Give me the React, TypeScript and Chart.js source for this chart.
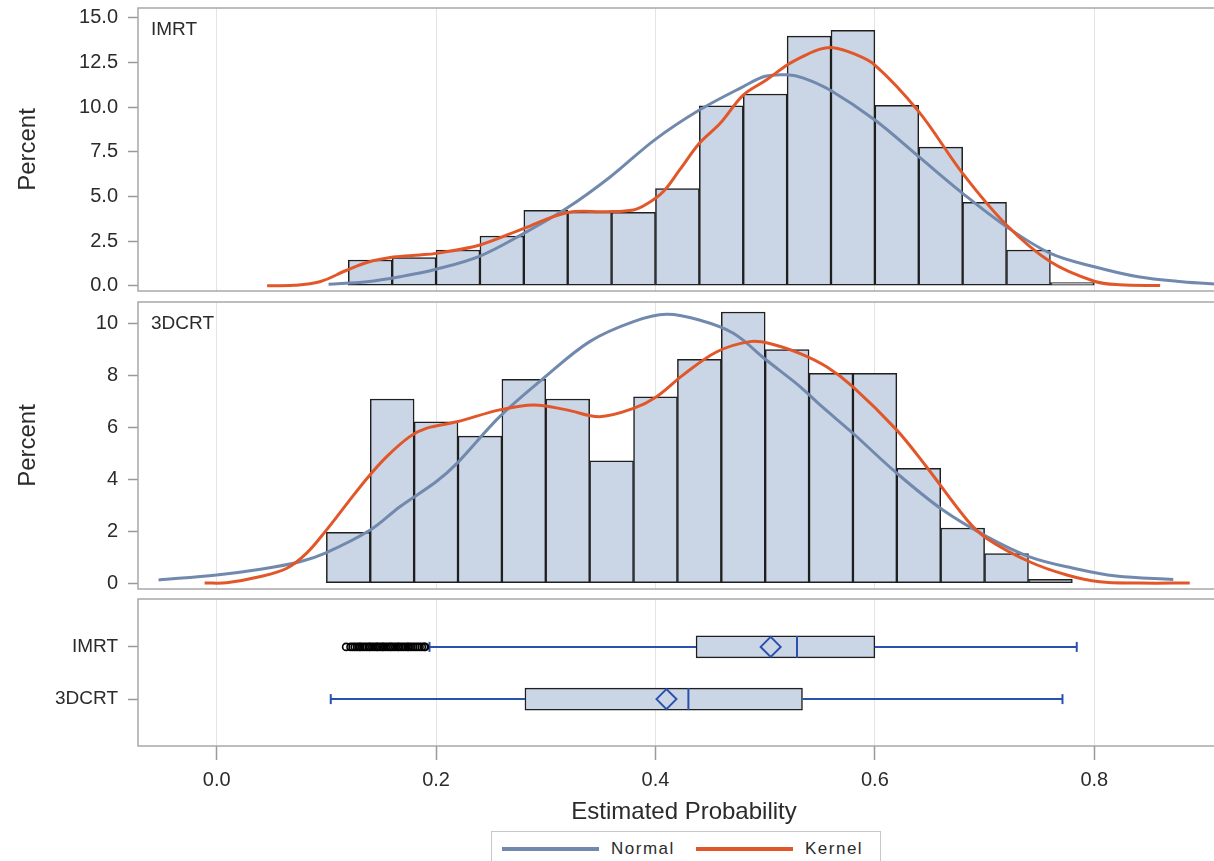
import React, { useEffect, useRef } from 'react';
import { Chart, registerables } from 'chart.js';

Chart.register(...registerables);

const FONT = "'Liberation Sans', Arial, Helvetica, sans-serif";
const TEXT = '#2b2b2b';
const GRID = '#e4e4e4';
const FRAME = '#a8a8a8';
const TICK = '#9a9a9a';
const BAR_FILL = '#cad5e5';
const BAR_EDGE = '#1f1f1f';
const NORMAL_COLOR = '#7189ad';
const KERNEL_COLOR = '#e2572a';
const BOX_BLUE = '#2a50ae';

// shared x axis
const X_MIN = -0.0717;
const X_MAX = 0.9237;
const xTickValues = [0, 0.2, 0.4, 0.6, 0.8];

const groups = ['IMRT', '3DCRT'];

// IMRT histogram (bin midpoints, percent)
const imrtBinMids = [0.14, 0.18, 0.22, 0.26, 0.30, 0.34, 0.38, 0.42, 0.46, 0.50, 0.54, 0.58, 0.62, 0.66, 0.70, 0.74, 0.78];
const imrtPercent = [1.44, 1.57, 2.0, 2.78, 4.22, 4.12, 4.10, 5.43, 10.07, 10.73, 13.97, 14.29, 10.09, 7.76, 4.67, 2.0, 0.17];

// 3DCRT histogram
const crtBinMids = [0.12, 0.16, 0.20, 0.24, 0.28, 0.32, 0.36, 0.40, 0.44, 0.48, 0.52, 0.56, 0.60, 0.64, 0.68, 0.72, 0.76];
const crtPercent = [1.96, 7.10, 6.22, 5.67, 7.86, 7.10, 4.72, 7.18, 8.63, 10.45, 9.0, 8.09, 8.09, 4.43, 2.13, 1.14, 0.15];

// density curves [x, percent]
const imrtNormal = [
  [0.102, 0.08], [0.137, 0.22], [0.167, 0.5], [0.20, 0.92], [0.24, 1.66], [0.28, 2.93], [0.319, 4.33],
  [0.359, 6.1], [0.399, 8.15], [0.44, 9.83], [0.48, 11.14], [0.50, 11.72], [0.52, 11.8], [0.535, 11.62],
  [0.559, 10.95], [0.60, 9.27], [0.64, 7.22], [0.68, 5.17], [0.72, 3.3], [0.76, 1.81], [0.80, 1.06],
  [0.84, 0.5], [0.88, 0.22], [0.915, 0.07],
];
const imrtKernel = [
  [0.046, 0], [0.07, 0.02], [0.094, 0.22], [0.118, 0.85], [0.137, 1.3], [0.161, 1.6], [0.185, 1.72],
  [0.20, 1.81], [0.24, 2.28], [0.28, 3.21], [0.32, 4.1], [0.355, 4.14], [0.38, 4.24], [0.392, 4.57],
  [0.407, 5.26], [0.422, 6.48], [0.44, 7.97], [0.459, 9.09], [0.48, 10.67], [0.501, 11.51], [0.52, 12.35],
  [0.535, 12.85], [0.55, 13.24], [0.562, 13.32], [0.58, 13.0], [0.60, 12.35], [0.64, 9.74], [0.68, 6.29],
  [0.72, 3.4], [0.76, 1.34], [0.80, 0.25], [0.823, 0.05], [0.86, 0.01],
];
const crtNormal = [
  [-0.053, 0.13], [0.0, 0.32], [0.04, 0.54], [0.076, 0.83], [0.099, 1.16], [0.14, 2.05], [0.167, 2.95],
  [0.20, 3.91], [0.219, 4.62], [0.258, 6.42], [0.298, 7.9], [0.34, 9.31], [0.38, 10.08], [0.41, 10.36],
  [0.44, 10.14], [0.471, 9.63], [0.501, 8.6], [0.532, 7.57], [0.55, 6.87], [0.58, 5.78],
  [0.62, 4.24], [0.662, 2.82], [0.702, 1.8], [0.741, 1.02], [0.781, 0.58], [0.82, 0.28], [0.872, 0.15],
];
const crtKernel = [
  [-0.011, 0.01], [0.009, 0.02], [0.039, 0.25], [0.064, 0.58], [0.082, 1.16], [0.10, 2.05], [0.119, 3.08],
  [0.137, 4.04], [0.155, 4.88], [0.176, 5.65], [0.191, 5.97], [0.219, 6.22], [0.258, 6.68], [0.289, 6.87],
  [0.319, 6.68], [0.349, 6.42], [0.38, 6.74], [0.401, 7.19], [0.425, 8.02], [0.456, 8.92], [0.486, 9.31],
  [0.504, 9.24], [0.532, 8.85], [0.556, 8.34], [0.58, 7.57], [0.62, 5.9], [0.647, 4.49], [0.684, 2.44],
  [0.702, 1.73], [0.741, 0.83], [0.775, 0.32], [0.805, 0.06], [0.84, 0.01], [0.887, 0.01],
];

// box plot statistics, index 0 = IMRT, 1 = 3DCRT
const boxMin = [0.194, 0.104];
const boxQ1 = [0.437, 0.281];
const boxMedian = [0.529, 0.430];
const boxMean = [0.505, 0.410];
const boxQ3 = [0.600, 0.534];
const boxMax = [0.784, 0.771];
const imrtOutliers = [
  0.118, 0.122, 0.124, 0.126, 0.128, 0.13, 0.131, 0.133, 0.135, 0.137, 0.139, 0.14, 0.142, 0.144,
  0.146, 0.147, 0.149, 0.151, 0.152, 0.154, 0.156, 0.158, 0.159, 0.161, 0.163, 0.165, 0.166, 0.168,
  0.17, 0.172, 0.174, 0.175, 0.177, 0.179, 0.181, 0.183, 0.185, 0.187, 0.189, 0.19,
];

Chart.defaults.font.family = FONT;
Chart.defaults.color = TEXT;

const framePlugin = {
  id: 'frame',
  afterDraw(chart: any) {
    const { ctx, chartArea } = chart;
    ctx.save();
    ctx.strokeStyle = FRAME;
    ctx.lineWidth = 1.5;
    ctx.strokeRect(chartArea.left, chartArea.top, chartArea.right - chartArea.left, chartArea.bottom - chartArea.top);
    ctx.restore();
  },
};

const insetLabelPlugin = {
  id: 'insetLabel',
  afterDatasetsDraw(chart: any, _args: any, opts: any) {
    if (!opts || !opts.text) return;
    const { ctx, chartArea } = chart;
    ctx.save();
    ctx.font = `19px ${FONT}`;
    ctx.fillStyle = TEXT;
    ctx.textAlign = 'left';
    ctx.textBaseline = 'middle';
    ctx.fillText(opts.text, chartArea.left + 13, chartArea.top + 22);
    ctx.restore();
  },
};

function zeroPadding(s: any) {
  s.paddingTop = 0;
  s.paddingBottom = 0;
  s.paddingLeft = 0;
  s.paddingRight = 0;
}

function xAxisHidden() {
  return {
    type: 'linear',
    min: X_MIN,
    max: X_MAX,
    offset: false,
    afterBuildTicks: (s: any) => { s.ticks = xTickValues.map((v) => ({ value: v })); },
    ticks: { display: false },
    grid: { color: GRID, lineWidth: 1, drawTicks: false, offset: false },
    border: { display: false },
    afterFit: (s: any) => { s.height = 0; zeroPadding(s); },
  };
}

function yAxisPercent(min: number, max: number, ticks: number[], dec: number) {
  return {
    type: 'linear',
    min,
    max,
    offset: false,
    afterBuildTicks: (s: any) => { s.ticks = ticks.map((v) => ({ value: v })); },
    ticks: {
      callback: (v: any) => Number(v).toFixed(dec),
      font: { size: 20 },
      color: TEXT,
      padding: 10,
      autoSkip: false,
    },
    grid: { drawOnChartArea: false, drawTicks: true, tickLength: 10, tickColor: TICK, tickWidth: 1.5, offset: false },
    border: { display: false },
    title: { display: true, text: 'Percent', font: { size: 24 }, color: TEXT, padding: { top: 14, bottom: 0 } },
    afterFit: (s: any) => { s.width = 138; zeroPadding(s); },
  };
}

function histConfig(
  label: string, mids: number[], pct: number[], normal: number[][], kernel: number[][],
  yMin: number, yMax: number, yTicks: number[], dec: number, pad: any,
) {
  return {
    type: 'bar',
    data: {
      datasets: [
        {
          type: 'line', label: 'Kernel', data: kernel.map(([x, y]) => ({ x, y })),
          borderColor: KERNEL_COLOR, borderWidth: 3, pointRadius: 0, fill: false,
          tension: 0.35, order: 0,
        },
        {
          type: 'line', label: 'Normal', data: normal.map(([x, y]) => ({ x, y })),
          borderColor: NORMAL_COLOR, borderWidth: 3, pointRadius: 0, fill: false,
          tension: 0.35, order: 1,
        },
        {
          type: 'bar', label, data: mids.map((x, i) => ({ x, y: pct[i] })),
          backgroundColor: BAR_FILL, borderColor: BAR_EDGE, borderWidth: 1.5, borderSkipped: false,
          barPercentage: 1, categoryPercentage: 1, order: 2,
        },
      ],
    },
    options: {
      responsive: false,
      animation: false,
      devicePixelRatio: 1,
      layout: { padding: pad, autoPadding: false },
      plugins: { legend: { display: false }, tooltip: { enabled: false }, insetLabel: { text: label } },
      scales: { x: xAxisHidden(), y: yAxisPercent(yMin, yMax, yTicks, dec) },
    },
    plugins: [framePlugin, insetLabelPlugin],
  };
}

function boxConfig() {
  const lineDs = (x1: number, x2: number, y: number) => ({
    type: 'line', data: [{ x: x1, y }, { x: x2, y }], borderColor: BOX_BLUE, borderWidth: 2,
    pointRadius: 0, fill: false, order: 1,
  });
  const datasets: any[] = [
    {
      type: 'scatter', label: 'Outliers', data: imrtOutliers.map((x) => ({ x, y: 1 })),
      pointStyle: 'circle', pointRadius: 3.5, pointBorderWidth: 1.6,
      pointBackgroundColor: 'rgba(255,255,255,0)', pointBorderColor: '#000000', order: 0,
    },
    {
      type: 'scatter', label: 'Mean', data: groups.map((_, i) => ({ x: boxMean[i], y: i + 1 })),
      pointStyle: 'rectRot', pointRadius: 10, pointBorderWidth: 2,
      pointBackgroundColor: 'rgba(0,0,0,0)', pointBorderColor: BOX_BLUE, order: 0,
    },
    {
      type: 'scatter', label: 'Median', data: groups.map((_, i) => ({ x: boxMedian[i], y: i + 1 })),
      pointStyle: 'line', pointRotation: 90, pointRadius: 11, pointBorderWidth: 2,
      pointBorderColor: BOX_BLUE, order: 0,
    },
    {
      type: 'scatter', label: 'Caps',
      data: groups.flatMap((_, i) => [{ x: boxMin[i], y: i + 1 }, { x: boxMax[i], y: i + 1 }]),
      pointStyle: 'line', pointRotation: 90, pointRadius: 5, pointBorderWidth: 2,
      pointBorderColor: BOX_BLUE, order: 1,
    },
  ];
  groups.forEach((_, i) => {
    datasets.push(lineDs(boxMin[i], boxQ1[i], i + 1));
    datasets.push(lineDs(boxQ3[i], boxMax[i], i + 1));
  });
  datasets.push({
    type: 'bar', label: 'Box', indexAxis: 'y',
    data: groups.map((_, i) => ({ x: [boxQ1[i], boxQ3[i]], y: i + 1 })),
    backgroundColor: BAR_FILL, borderColor: BAR_EDGE, borderWidth: 1.5, borderSkipped: false,
    barThickness: 22, order: 3,
  });
  return {
    type: 'bar',
    data: { datasets },
    options: {
      responsive: false,
      animation: false,
      devicePixelRatio: 1,
      layout: { padding: { left: 0, right: 10, top: 7, bottom: 0 }, autoPadding: false },
      plugins: { legend: { display: false }, tooltip: { enabled: false } },
      scales: {
        x: {
          type: 'linear', min: X_MIN, max: X_MAX, offset: false,
          afterBuildTicks: (s: any) => { s.ticks = xTickValues.map((v) => ({ value: v })); },
          ticks: {
            callback: (v: any) => Number(v).toFixed(1), font: { size: 20 }, color: TEXT,
            padding: 8, maxRotation: 0, autoSkip: false,
          },
          grid: { color: GRID, lineWidth: 1, tickColor: TICK, tickWidth: 1.5, tickLength: 14, drawTicks: true, offset: false },
          border: { display: false },
          title: {
            display: true, text: 'Estimated Probability', font: { size: 24 }, color: TEXT,
            padding: { top: 0, bottom: 34 },
          },
          afterFit: (s: any) => { s.height = 115; zeroPadding(s); },
        },
        y: {
          type: 'linear', min: 0.083, max: 2.898, reverse: true, offset: false,
          afterBuildTicks: (s: any) => { s.ticks = [1, 2].map((v) => ({ value: v })); },
          ticks: {
            callback: (v: any) => groups[Number(v) - 1] ?? '', font: { size: 19 }, color: TEXT,
            padding: 10, autoSkip: false,
          },
          grid: {
            drawOnChartArea: false, drawTicks: true, tickLength: 10, tickColor: TICK, tickWidth: 1.5, offset: false,
          },
          border: { display: false },
          afterFit: (s: any) => { s.width = 138; zeroPadding(s); },
        },
      },
    },
    plugins: [framePlugin],
  };
}

function ChartCanvas({ make, top, width, height }: { make: () => any; top: number; width: number; height: number }) {
  const ref = useRef<HTMLCanvasElement>(null);
  useEffect(() => {
    if (!ref.current) return;
    const chart = new Chart(ref.current, make());
    return () => chart.destroy();
  }, []);
  return (
    <canvas
      ref={ref}
      width={width}
      height={height}
      style={{ position: 'absolute', left: 0, top, width, height, display: 'block' }}
    />
  );
}

export default function App() {
  const W = 1240;
  return (
    <div
      style={{
        position: 'fixed', left: 0, top: 0, width: 1214, height: 861, overflow: 'hidden',
        background: '#ffffff', fontFamily: FONT,
      }}
    >
      <ChartCanvas
        top={0}
        width={W}
        height={300}
        make={() => histConfig('IMRT', imrtBinMids, imrtPercent, imrtNormal, imrtKernel,
          -0.297, 15.543, [0, 2.5, 5, 7.5, 10, 12.5, 15], 1, { left: 0, right: 10, top: 8, bottom: 9 })}
      />
      <ChartCanvas
        top={300}
        width={W}
        height={292}
        make={() => histConfig('3DCRT', crtBinMids, crtPercent, crtNormal, crtKernel,
          -0.22, 10.836, [0, 2, 4, 6, 8, 10], 0, { left: 0, right: 10, top: 2, bottom: 3 })}
      />
      <ChartCanvas top={592} width={W} height={269} make={boxConfig} />
      <div
        style={{
          position: 'absolute', left: 491, top: 831, width: 390, height: 40, boxSizing: 'border-box',
          border: '1px solid #c8c8c8', background: '#ffffff',
        }}
      >
        <div style={{ position: 'absolute', left: 10, top: 15, width: 97, height: 4, background: NORMAL_COLOR }} />
        <span
          style={{
            position: 'absolute', left: 119, top: 7, fontSize: 17, lineHeight: '20px',
            letterSpacing: '1.5px', color: TEXT, whiteSpace: 'nowrap',
          }}
        >
          Normal
        </span>
        <div style={{ position: 'absolute', left: 204, top: 15, width: 97, height: 4, background: KERNEL_COLOR }} />
        <span
          style={{
            position: 'absolute', left: 313, top: 7, fontSize: 17, lineHeight: '20px',
            letterSpacing: '1.5px', color: TEXT, whiteSpace: 'nowrap',
          }}
        >
          Kernel
        </span>
      </div>
    </div>
  );
}
